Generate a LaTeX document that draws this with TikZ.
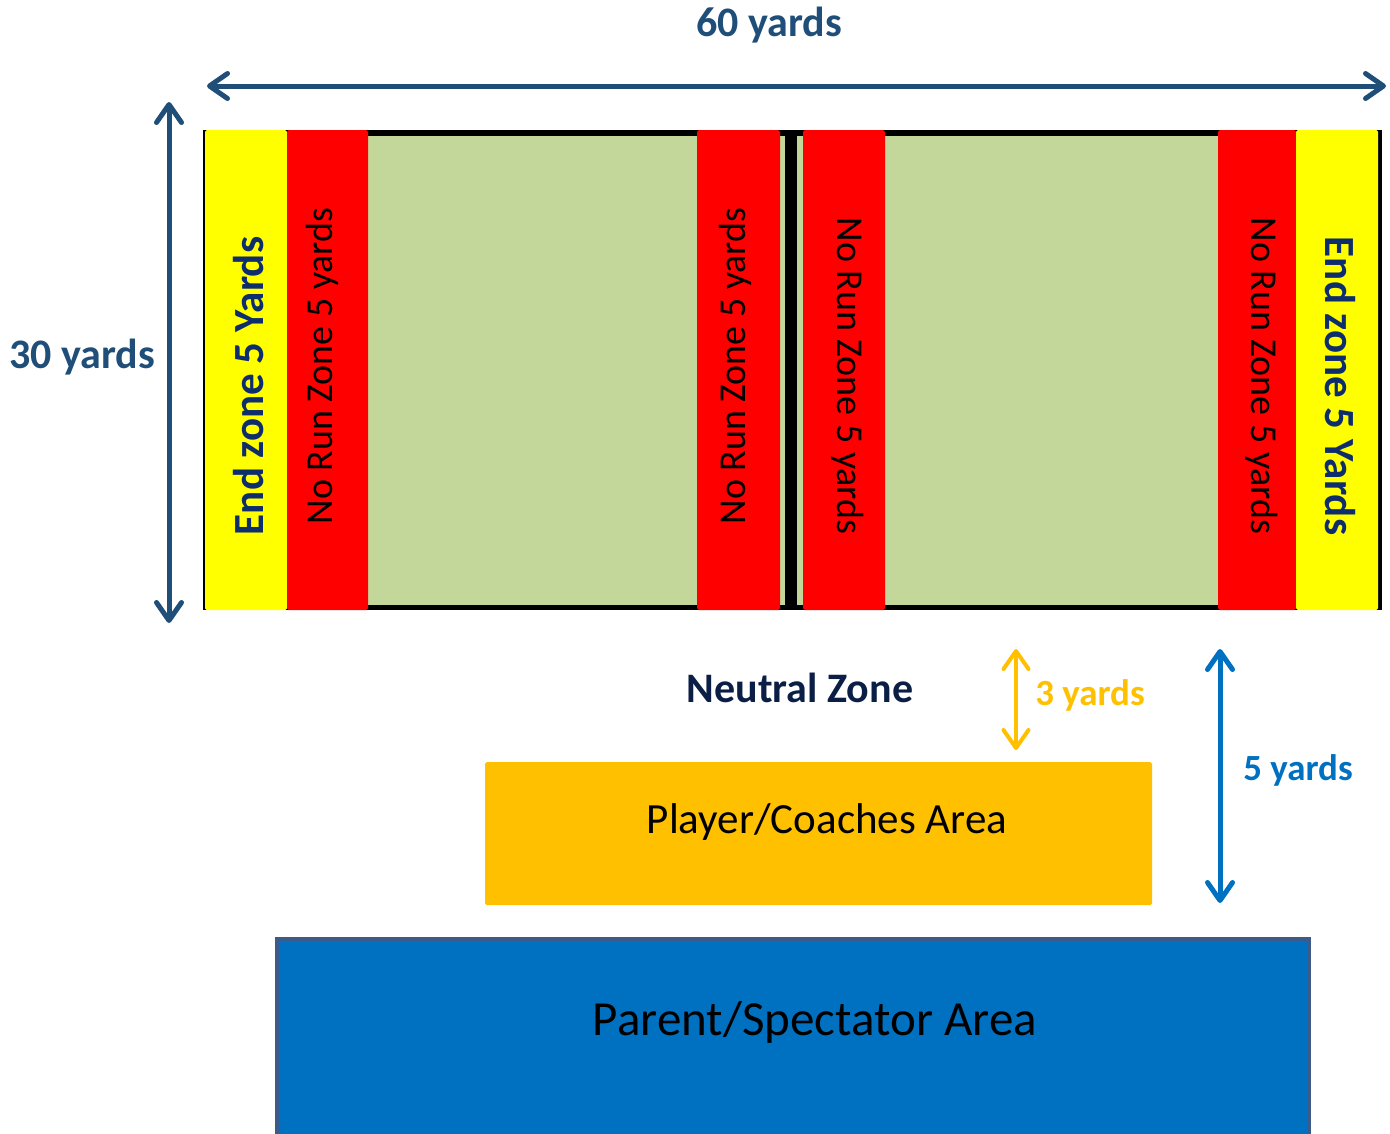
\documentclass[tikz,border=0pt]{standalone}
\usepackage{fontspec}
\setmainfont{Carlito}
\usetikzlibrary{arrows.meta}
\definecolor{navy}{HTML}{1F4E79}
\definecolor{inknavy}{HTML}{0B1E45}
\definecolor{endnavy}{HTML}{0D2D6C}
\definecolor{zonered}{HTML}{FF0000}
\definecolor{zoneyellow}{HTML}{FFFF00}
\definecolor{grass}{HTML}{C4D79B}
\definecolor{gold}{HTML}{FFC000}
\definecolor{areablue}{HTML}{0070C0}
\definecolor{areaedge}{HTML}{3C5A8A}
\begin{document}
\begin{tikzpicture}[x=0.02cm,y=-0.02cm,
    >={Straight Barb[length=0.36cm,width=0.5cm,round]},
    dim/.style={<->,line width=0.1cm,line cap=round},
    endtxt/.style={font=\bfseries\fontsize{24.5}{26}\selectfont,text=endnavy,inner sep=0pt},
    nrtxt/.style={font=\fontsize{21.6}{23}\selectfont,text=black,inner sep=0pt},
    dimtxt/.style={font=\bfseries\fontsize{23.9}{25}\selectfont,inner sep=0pt}]
\useasboundingbox (0,0) rectangle (1390,1133);
\fill[black] (203,130) rectangle (1382,610);
\fill[grass] (207,136) rectangle (1378,605);
\fill[black] (785,130) rectangle (797,610);
\fill[zoneyellow,rounded corners=1pt] (205,130) rectangle (287,610);
\fill[zonered,rounded corners=1pt] (287,130) rectangle (368,610);
\fill[zonered,rounded corners=1pt] (697,130) rectangle (780,610);
\fill[zonered,rounded corners=1pt] (803,130) rectangle (885,610);
\fill[zonered,rounded corners=1pt] (1218,130) rectangle (1296,610);
\fill[zoneyellow,rounded corners=1pt] (1296,130) rectangle (1378,610);
\node[endtxt,rotate=90] (endL) at (249,386) {End zone 5 Yards};
\node[nrtxt,rotate=90] (nrL) at (322,366) {No Run Zone 5 yards};
\node[nrtxt,rotate=90] (nrML) at (735,366) {No Run Zone 5 yards};
\node[nrtxt,rotate=-90] (nrMR) at (848,376) {No Run Zone 5 yards};
\node[nrtxt,rotate=-90] (nrR) at (1262,376) {No Run Zone 5 yards};
\node[endtxt,rotate=-90] (endR) at (1340,386) {End zone 5 Yards};
\coordinate (wl) at (207,86);
\coordinate (wr) at (1386,86);
\coordinate (ht) at (169,102);
\coordinate (hb) at (169,623);
\coordinate (tt) at (1016,649);
\coordinate (tb) at (1016,750);
\coordinate (ft) at (1220,649);
\coordinate (fb) at (1220,903);
\draw[dim,navy] (wl) -- (wr);
\draw[dim,navy] (ht) -- (hb);
\draw[dim,gold,line width=0.08cm] (tt) -- (tb);
\draw[dim,areablue] (ft) -- (fb);
\node[dimtxt,text=navy] (width) at (769,25) {60 yards};
\node[dimtxt,text=navy] (height) at (82,357) {30 yards};
\node[dimtxt,text=inknavy] (neutral) at (800,688) {Neutral Zone};
\node[dimtxt,text=gold,font=\bfseries\fontsize{21}{23}\selectfont] (three) at (1090,695) {3 yards};
\node[dimtxt,text=areablue,font=\bfseries\fontsize{21}{23}\selectfont] (five) at (1298,770) {5 yards};
\fill[gold,rounded corners=1pt] (485,762) rectangle (1152,905);
\node[font=\fontsize{24.5}{26}\selectfont,inner sep=0pt] (player) at (827,822) {Player/Coaches Area};
\filldraw[fill=areablue,draw=areaedge,line width=0.08cm] (277,939) rectangle (1309,1145);
\node[font=\fontsize{27.9}{30}\selectfont,inner sep=0pt] (parent) at (815,1022) {Parent/Spectator Area};
\end{tikzpicture}
\end{document}
